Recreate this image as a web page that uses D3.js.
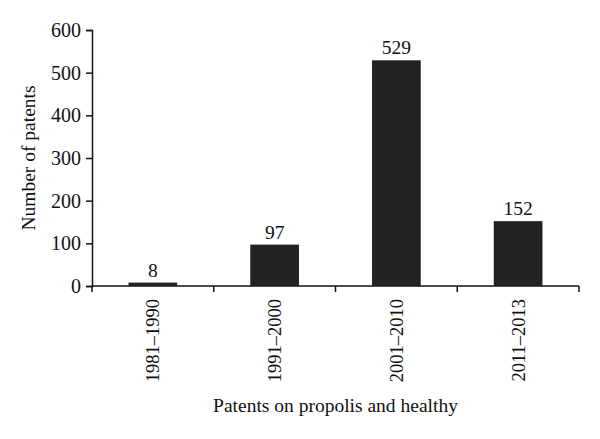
<!DOCTYPE html>
<html>
<head>
<meta charset="utf-8">
<script src="https://cdn.jsdelivr.net/npm/d3@7"></script>
<style>
  body { margin: 0; background: #fff; }
  svg text { font-family: 'Liberation Serif', 'DejaVu Serif', serif; fill: #111; }
</style>
</head>
<body>
<div id="graf"></div>
<script>
// data
const periodos = ['1981–1990', '1991–2000', '2001–2010', '2011–2013']
const patentes = [8, 97, 529, 152]
const yTicks = [0, 100, 200, 300, 400, 500, 600]

const anchoTotal = 600
const altoTotal = 439
const margin = { top: 30, bottom: 153, left: 92, right: 21 }
const ancho = anchoTotal - margin.left - margin.right
const alto = altoTotal - margin.top - margin.bottom

const svg = d3.select('#graf')
  .append('svg')
  .attr('width', anchoTotal)
  .attr('height', altoTotal)

const g = svg.append('g')
  .attr('transform', `translate(${margin.left}, ${margin.top})`)

const x = d3.scaleBand().domain(periodos).range([0, ancho]).paddingInner(0.6).paddingOuter(0.3)
const y = d3.scaleLinear().domain([0, 600]).range([alto, 0])

// ejes
const ejeY = g.append('g')
  .call(d3.axisLeft(y).tickValues(yTicks).tickSize(6).tickPadding(5))
ejeY.selectAll('text').style('font-size', '20px')

// x axis with ticks at band boundaries
const ejeX = g.append('g').attr('transform', `translate(0, ${alto})`)
ejeX.append('line')
  .attr('x1', 0).attr('x2', ancho)
  .attr('stroke', '#111').attr('stroke-width', 1.5)
const bordes = periodos.map((p) => x(p) - x.step() * x.paddingInner() / 2)
bordes.push(ancho)
ejeX.selectAll('.tick')
  .data(bordes)
  .enter()
  .append('line')
  .attr('x1', (d) => d).attr('x2', (d) => d)
  .attr('y1', 0).attr('y2', 6)
  .attr('stroke', '#111').attr('stroke-width', 1.5)
ejeX.selectAll('.lbl')
  .data(periodos)
  .enter()
  .append('text')
  .attr('transform', (d) => `translate(${x(d) + x.bandwidth() / 2}, 13) rotate(-90)`)
  .attr('text-anchor', 'end')
  .attr('dy', '0.35em')
  .style('font-size', '18.5px')
  .text((d) => d)

ejeY.select('.domain').attr('stroke', '#111').attr('stroke-width', 1.5)
ejeY.selectAll('.tick line').attr('stroke', '#111').attr('stroke-width', 1.5)

// barras
g.selectAll('rect.bar')
  .data(periodos)
  .enter()
  .append('rect')
  .attr('class', 'bar')
  .attr('x', (d) => x(d))
  .attr('y', (d, i) => y(patentes[i]))
  .attr('width', x.bandwidth())
  .attr('height', (d, i) => alto - y(patentes[i]))
  .attr('fill', '#222222')

g.selectAll('text.valor')
  .data(periodos)
  .enter()
  .append('text')
  .attr('class', 'valor')
  .attr('x', (d) => x(d) + x.bandwidth() / 2)
  .attr('y', (d, i) => y(patentes[i]) - 6)
  .attr('text-anchor', 'middle')
  .style('font-size', '19.5px')
  .text((d, i) => patentes[i])

// titulos
g.append('text')
  .attr('x', ancho / 2)
  .attr('y', alto + 126)
  .attr('text-anchor', 'middle')
  .style('font-size', '19.5px')
  .text('Patents on propolis and healthy')

g.append('text')
  .attr('transform', `translate(-57, ${alto / 2}) rotate(-90)`)
  .attr('text-anchor', 'middle')
  .style('font-size', '19.5px')
  .text('Number of patents')
</script>
</body>
</html>
